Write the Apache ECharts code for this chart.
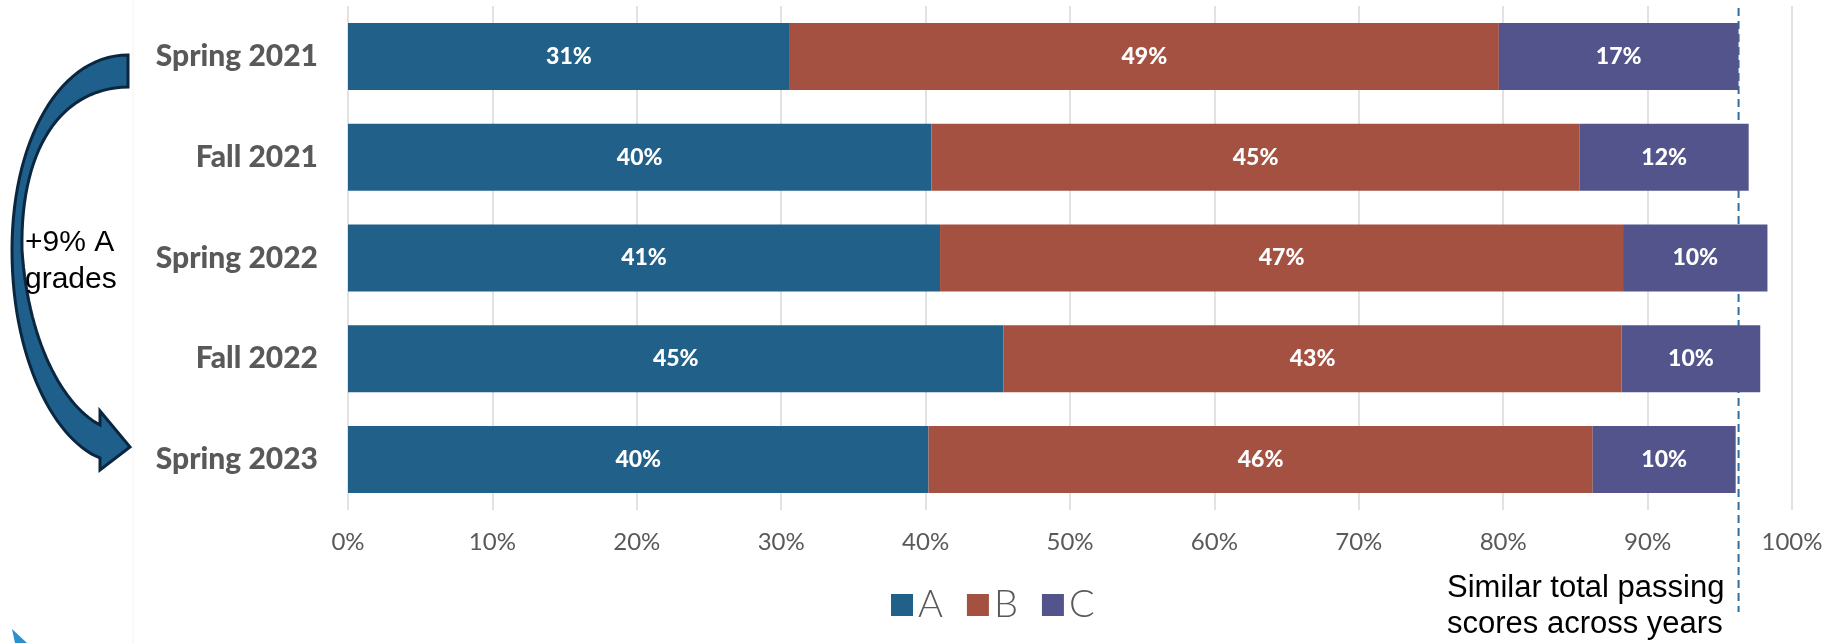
<!DOCTYPE html>
<html>
<head>
<meta charset="utf-8">
<script src="https://cdn.jsdelivr.net/npm/echarts@6/dist/echarts.min.js"></script>
<style>
html,body{margin:0;padding:0;background:#fff;}
#main{width:1832px;height:643px;}
</style>
</head>
<body>
<div id="main"></div>
<script>
// Data
var categories = ['Spring 2021', 'Fall 2021', 'Spring 2022', 'Fall 2022', 'Spring 2023'];
var seriesNames = ['A', 'B', 'C'];
var gradeA = [30.6, 40.4, 41.0, 45.4, 40.2];
var gradeB = [49.1, 44.9, 47.3, 42.8, 46.0];
var gradeC = [16.6, 11.7, 10.0, 9.6, 9.9];
var xTicks = [0, 10, 20, 30, 40, 50, 60, 70, 80, 90, 100];
var passLine = 96.3;
var arrowText = '+9% A\ngrades';
var noteText = 'Similar total passing\nscores across years';

var colors = ['#216089', '#a55142', '#53548c'];
var chart = echarts.init(document.getElementById('main'));

function mkSeries(name, data, color) {
  return {
    name: name, type: 'bar', stack: 'total', data: data,
    barWidth: '66.5%',
    itemStyle: { color: color },
    label: {
      show: true, position: 'inside', color: '#ffffff',
      fontFamily: 'Lato', fontWeight: 900, fontSize: 23,
      formatter: function (p) { return Math.round(p.value) + '%'; }
    }
  };
}

chart.setOption({
  animation: false,
  color: colors,
  grid: { left: 348, right: 40, top: 6, bottom: 133, containLabel: false },
  legend: {
    data: seriesNames, left: 886, top: 581,
    itemWidth: 22, itemHeight: 22, itemGap: 24,
    icon: 'rect',
    textStyle: { fontFamily: 'Lato', fontWeight: 300, fontSize: 38, color: '#595959' }
  },
  xAxis: {
    type: 'value', min: 0, max: 100, interval: 10,
    axisLine: { show: false }, axisTick: { show: false },
    splitLine: { show: true, lineStyle: { color: '#d9d9d9', width: 1.5 } },
    axisLabel: {
      margin: 20, fontFamily: 'Lato', fontSize: 24, color: '#595959',
      formatter: function (v) { return xTicks.indexOf(v) >= 0 ? v + '%' : ''; }
    }
  },
  yAxis: {
    type: 'category', data: categories, inverse: true,
    axisLine: { show: false }, axisTick: { show: false },
    axisLabel: { margin: 30, fontFamily: 'Lato', fontWeight: 900, fontSize: 30, color: '#595959' }
  },
  series: [
    mkSeries('A', gradeA, colors[0]),
    mkSeries('B', gradeB, colors[1]),
    mkSeries('C', gradeC, colors[2])
  ]
});

// Decorative curved arrow outline (sampled cubic beziers)
function cubic(p0, p1, p2, p3, n) {
  var pts = [];
  for (var i = 0; i <= n; i++) {
    var t = i / n, u = 1 - t;
    pts.push([
      u*u*u*p0[0] + 3*u*u*t*p1[0] + 3*u*t*t*p2[0] + t*t*t*p3[0],
      u*u*u*p0[1] + 3*u*u*t*p1[1] + 3*u*t*t*p2[1] + t*t*t*p3[1]
    ]);
  }
  return pts;
}
var arrowPts = [].concat(
  cubic([128, 55], [60, 55], [12, 140], [12, 250], 30),
  cubic([12, 250], [12, 360], [55, 440], [100, 458], 30),
  [[100, 470], [130, 447], [100, 411], [100, 425]],
  cubic([100, 425], [62, 405], [28, 340], [22, 250], 30),
  cubic([22, 250], [20, 150], [60, 88], [128, 87], 30)
);

var px = chart.convertToPixel({ xAxisIndex: 0 }, passLine);

chart.setOption({
  graphic: [
    { type: 'line', shape: { x1: 133, y1: 0, x2: 133, y2: 643 }, style: { stroke: '#f3f3f3', lineWidth: 1 } },
    { type: 'polygon', shape: { points: arrowPts }, style: { fill: '#1f5f8b', stroke: '#0b2740', lineWidth: 3, lineJoin: 'miter' } },
    {
      type: 'text', left: 25, top: 224,
      style: { text: arrowText, font: '30px "Liberation Sans", Arial, sans-serif', fill: '#000000', lineHeight: 37 }
    },
    { type: 'line', shape: { x1: px, y1: 8, x2: px, y2: 612 }, style: { stroke: '#2f6f9f', lineWidth: 2, lineDash: [8, 5] } },
    {
      type: 'text', left: 1447, top: 570,
      style: { text: noteText, font: '31px "Liberation Sans", Arial, sans-serif', fill: '#000000', lineHeight: 36 }
    },
    { type: 'polygon', shape: { points: [[12, 629], [27, 643], [15, 643]] }, style: { fill: '#2b8fd0' } }
  ]
});
</script>
</body>
</html>
